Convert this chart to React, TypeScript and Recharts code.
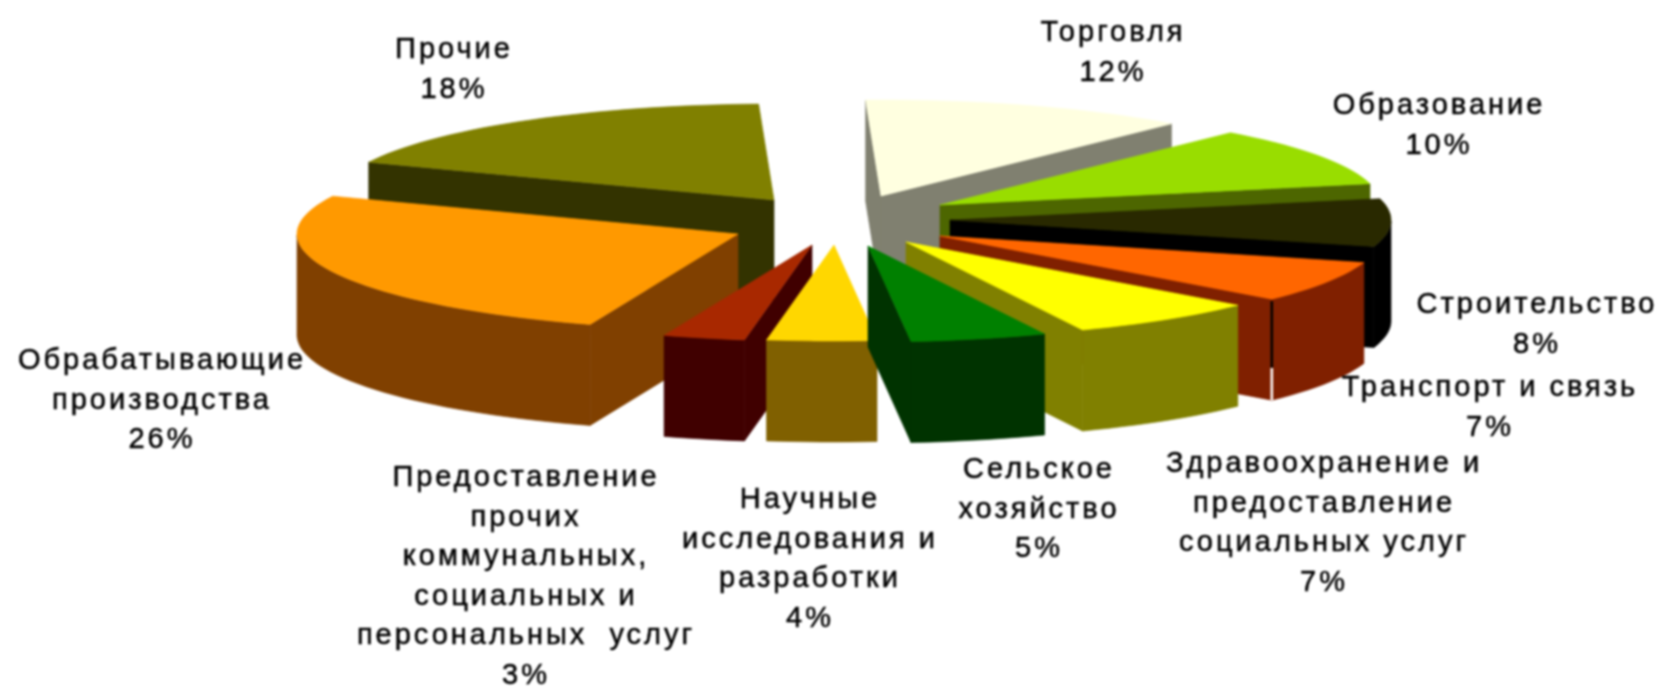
import { PieChart, Pie } from "recharts"

// clockwise from twelve o'clock
const categories = [
	"Торговля",
	"Образование",
	"Строительство",
	"Транспорт и связь",
	"Здравоохранение и\nпредоставление\nсоциальных услуг",
	"Сельское\nхозяйство",
	"Научные\nисследования и\nразработки",
	"Предоставление\nпрочих\nкоммунальных,\nсоциальных и\nперсональных  услуг",
	"Обрабатывающие\nпроизводства",
	"Прочие",
]
const shares = [12, 10, 8, 7, 7, 5, 4, 3, 26, 18]

const topColors = ["#ffffe0", "#99dd00", "#292900", "#ff6600", "#ffff00", "#008000", "#ffd700", "#a82800", "#ff9900", "#808000"]
const wallColors = ["#808070", "#4d6600", "#000000", "#802000", "#808000", "#003300", "#806000", "#400000", "#804000", "#333300"]

// how far each slice is pulled out of the pie
const offsetX = [31, 90, 100, 90, 56, 18, -16, -38, -112, -76]
const offsetY = [-25, -16, -1, 15, 21, 25, 24, 24, 13, -21]

// centre x and first line y of each label
const labelX = [1113, 1439, 1537, 1490, 1324, 1039, 810, 526, 162, 454]
const labelY = [32, 105, 304, 387, 463, 469, 499, 477, 360, 49]

// the right half is painted clockwise and the left half anticlockwise, so that
// every slice is drawn after the ones behind it
const rightSlices = [0, 1, 2, 3, 4, 5]
const leftSlices = [9, 8, 7, 6]

const WIDTH = 1665
const HEIGHT = 691
const CX = 850
const CY = 221
const RADIUS = 441
const SQUASH = 96 / 441
const DEPTH = 101
const START_ANGLE = 92
const LINE_HEIGHT = 39.5
const FONT_SIZE = 29

const buildRows = (ids: number[]) => ids.map((i) => ({ name: categories[i], value: shares[i] }))
const rightData = buildRows(rightSlices)
const leftData = buildRows(leftSlices)
const spanOf = (ids: number[]) => (ids.reduce((s, i) => s + shares[i], 0) / 100) * 360

const poly = (pts: number[][]) => pts.map((p, i) => `${i ? "L" : "M"}${p[0].toFixed(1)},${p[1].toFixed(1)}`).join(" ") + " Z"

const Slice3D = (props: any) => {
	const i = categories.indexOf(props.name)
	const { cx, cy, startAngle, endAngle, outerRadius } = props
	const ox = cx + offsetX[i]
	const oy = cy + offsetY[i]
	const at = (deg: number): number[] => {
		const a = (deg * Math.PI) / 180
		return [ox + outerRadius * Math.cos(a), oy - outerRadius * SQUASH * Math.sin(a)]
	}
	const down = (p: number[]) => [p[0], p[1] + DEPTH]
	const apex = [ox, oy]

	const steps = Math.max(2, Math.ceil(Math.abs(startAngle - endAngle) / 2))
	const angles: number[] = []
	for (let s = 0; s <= steps; s++) angles.push(startAngle + ((endAngle - startAngle) * s) / steps)
	const arc = angles.map(at)
	const mid = at((startAngle + endAngle) / 2)

	// a side wall shows only when the top face lies above its edge
	const wallShows = (p: number[]) => {
		const ex = p[0] - apex[0]
		const ey = p[1] - apex[1]
		const sideMid = ex * (mid[1] - apex[1]) - ey * (mid[0] - apex[0])
		return sideMid * ex < 0
	}

	const wall = wallColors[i]
	const faces: string[] = []
	const ends = [arc[0], arc[arc.length - 1]]
	ends.forEach((p) => {
		if (wallShows(p)) faces.push(poly([apex, p, down(p), down(apex)]))
	})
	const rim = arc.filter((_, s) => Math.sin((angles[s] * Math.PI) / 180) < 0.001)
	if (rim.length > 1) faces.push(poly([...rim, ...[...rim].reverse().map(down)]))

	// the old chart has a gap in the corner of this one slice
	const corner = props.name === "Транспорт и связь" ? arc[arc.length - 1] : null

	return (
		<g>
			{faces.map((d, k) => (
				<path key={k} d={d} fill={wall} stroke={wall} strokeWidth={0.6} />
			))}
			<path d={poly([apex, ...arc])} fill={topColors[i]} stroke={topColors[i]} strokeWidth={0.6} />
			{corner && (
				<g strokeWidth={2.5}>
					<line x1={corner[0]} y1={corner[1] + 2} x2={corner[0]} y2={corner[1] + DEPTH * 0.68} stroke="#000000" />
					<line x1={corner[0]} y1={corner[1] + DEPTH * 0.68} x2={corner[0]} y2={corner[1] + DEPTH} stroke="#ffffff" />
				</g>
			)}
		</g>
	)
}

const SliceLabel = (props: any) => {
	const i = categories.indexOf(props.name)
	const lines = [...categories[i].split("\n"), `${shares[i]}%`]
	return (
		<text
			textAnchor="middle"
			fontFamily="'Liberation Sans', Arial, sans-serif"
			fontSize={FONT_SIZE}
			letterSpacing={3}
			fill="#000000"
			stroke="#000000"
			strokeWidth={0.5}
		>
			{lines.map((line, k) => (
				<tspan key={k} x={labelX[i]} y={labelY[i] + 9 + k * LINE_HEIGHT} xmlSpace="preserve">
					{line}
				</tspan>
			))}
		</text>
	)
}

const App = () => {
	return (
		<div
			style={{
				position: "absolute",
				left: 0,
				top: 0,
				width: WIDTH,
				height: HEIGHT,
				background: "#ffffff",
				filter: "blur(0.8px)",
			}}
		>
			<PieChart width={WIDTH} height={HEIGHT} margin={{ top: 0, right: 0, bottom: 0, left: 0 }}>
				<Pie
					data={leftData}
					dataKey="value"
					nameKey="name"
					cx={CX}
					cy={CY}
					innerRadius={0}
					outerRadius={RADIUS}
					startAngle={START_ANGLE}
					endAngle={START_ANGLE + spanOf(leftSlices)}
					stroke="none"
					shape={Slice3D}
					label={SliceLabel}
					labelLine={false}
					isAnimationActive={false}
				/>
				<Pie
					data={rightData}
					dataKey="value"
					nameKey="name"
					cx={CX}
					cy={CY}
					innerRadius={0}
					outerRadius={RADIUS}
					startAngle={START_ANGLE}
					endAngle={START_ANGLE - spanOf(rightSlices)}
					stroke="none"
					shape={Slice3D}
					label={SliceLabel}
					labelLine={false}
					isAnimationActive={false}
				/>
			</PieChart>
		</div>
	)
}

export default App
